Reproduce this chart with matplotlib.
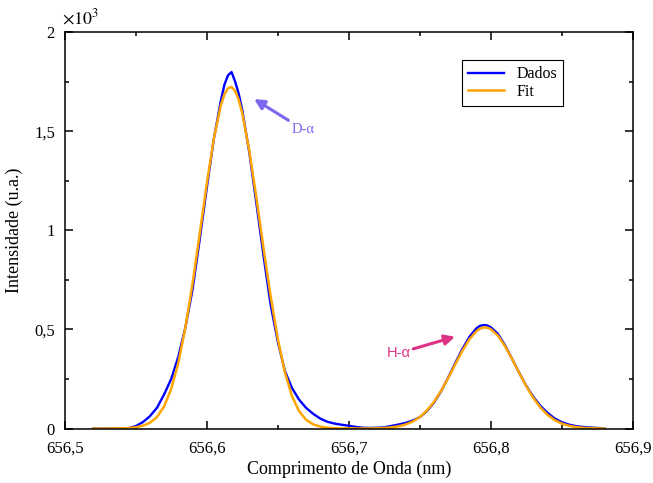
import matplotlib
matplotlib.use('Agg')
import matplotlib.pyplot as plt
from matplotlib.ticker import MultipleLocator, FuncFormatter

# Wavelength grid (nm)
wl = [656.520, 656.525, 656.530, 656.535, 656.540, 656.545, 656.550, 656.555,
      656.560, 656.565, 656.570, 656.575, 656.580, 656.585, 656.590, 656.595,
      656.600, 656.605, 656.610, 656.6125, 656.615, 656.6175, 656.620, 656.6225,
      656.625, 656.630, 656.635, 656.640, 656.645, 656.650, 656.655, 656.660,
      656.665, 656.670, 656.675, 656.680, 656.685, 656.690, 656.695, 656.700,
      656.705, 656.710, 656.715, 656.720, 656.725, 656.730, 656.735, 656.740,
      656.745, 656.750, 656.755, 656.760, 656.765, 656.770, 656.775, 656.780,
      656.785, 656.790, 656.7925, 656.795, 656.7975, 656.800, 656.805, 656.810,
      656.815, 656.820, 656.825, 656.830, 656.835, 656.840, 656.845, 656.850,
      656.855, 656.860, 656.865, 656.870, 656.875, 656.880]

# Measured spectrum
dados = [0, 0, 0, 0, 0, 2, 12, 32,
         62, 105, 172, 250, 362, 510, 700, 950,
         1210, 1460, 1655, 1735, 1782, 1798, 1750, 1690,
         1608, 1392, 1135, 872, 625, 440, 292, 205,
         146, 104, 74, 50, 34, 25, 19, 14,
         8, 4, 3, 4, 6, 13, 20, 28,
         40, 57, 87, 130, 187, 256, 330, 400,
         462, 506, 518, 522, 520, 511, 478, 421,
         352, 282, 216, 160, 114, 79, 51, 32,
         20, 12, 8, 5, 3, 1]

# Fitted curve
fit = [0, 0, 0.1, 0.4, 1, 2.5, 6, 14,
       29, 58, 112, 200, 330, 510, 730, 978,
       1232, 1461, 1632, 1686, 1717, 1723, 1703, 1659,
       1592, 1401, 1163, 909, 669, 455, 285, 165,
       88, 44, 21, 9.5, 4, 1.6, 0.6, 0.3,
       0.2, 0.3, 0.6, 1.3, 2.8, 5.7, 10.9, 20,
       34.7, 57.3, 89.8, 133.7, 189, 253.7, 323.4, 391.5,
       450, 491.4, 503.6, 509.5, 508.8, 501.6, 469, 416.5,
       351.2, 281.3, 213.9, 154.5, 106, 69, 42.7, 25.1,
       14, 7.4, 3.7, 1.8, 0.8, 0.35]

plt.rcParams['font.family'] = ['Liberation Serif', 'DejaVu Serif']
plt.rcParams['mathtext.fontset'] = 'stix'

fig = plt.figure(figsize=(6.53, 4.83), dpi=100)
ax = fig.add_axes([0.0991, 0.1128, 0.8698, 0.8209])

ax.plot(wl, dados, color='#0000ff', lw=1.7, label='Dados')
ax.plot(wl, fit, color='#ffa500', lw=1.8, label='Fit')

ax.set_xlim(656.5, 656.9)
ax.set_ylim(0, 2000)

# ticks inward on every side, comma decimals
ax.xaxis.set_major_locator(MultipleLocator(0.1))
ax.xaxis.set_minor_locator(MultipleLocator(0.05))
ax.yaxis.set_major_locator(MultipleLocator(500))
ax.yaxis.set_minor_locator(MultipleLocator(250))
ax.xaxis.set_major_formatter(FuncFormatter(lambda v, p: f"{v:.1f}".replace('.', ',')))
ax.yaxis.set_major_formatter(FuncFormatter(lambda v, p: f"{v/1000:g}".replace('.', ',')))
ax.tick_params(which='both', direction='in', top=True, right=True, width=1.1,
               labelsize=12)
ax.tick_params(axis='x', pad=9)
ax.tick_params(axis='y', pad=7)
ax.tick_params(which='major', length=6)
ax.tick_params(which='minor', length=3)
for s in ax.spines.values():
    s.set_linewidth(1.1)

ax.text(-0.005, 1.01, r'$\times10^3$', transform=ax.transAxes, fontsize=13,
        ha='left', va='bottom')

ax.set_xlabel('Comprimento de Onda (nm)', fontsize=13, labelpad=3)
ax.set_ylabel('Intensidade (u.a.)', fontsize=13, labelpad=8)

leg = ax.legend(loc='upper left', bbox_to_anchor=(0.6995, 0.9294), borderaxespad=0,
                fancybox=False, edgecolor='black', fontsize=11.5, handlelength=2.2,
                borderpad=0.4, labelspacing=0.1, framealpha=1)
leg.get_frame().set_linewidth(0.8)

# peak labels
ax.annotate('D-α', xy=(656.6334, 1662), xytext=(656.6595, 1510),
            color='#7b68ee', fontsize=10.5, va='center', ha='left',
            arrowprops=dict(arrowstyle='-|>', color='#7b68ee', lw=2.2,
                            mutation_scale=15, shrinkA=0, shrinkB=0))
ax.annotate('H-α', xy=(656.7749, 463), xytext=(656.7435, 380),
            color='#dd3385', fontsize=10.5, va='center', ha='right',
            family=['Liberation Sans', 'DejaVu Sans'],
            arrowprops=dict(arrowstyle='-|>', color='#dd3385', lw=2.2,
                            mutation_scale=15, shrinkA=0, shrinkB=0))

fig.savefig('out.png', dpi=100)
